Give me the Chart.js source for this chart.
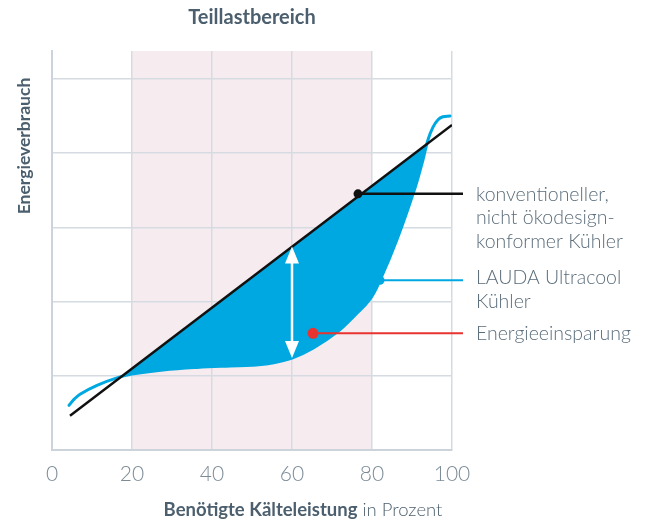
<!DOCTYPE html>
<html>
<head>
<meta charset="utf-8">
<script src="https://cdn.jsdelivr.net/npm/chart.js@4"></script>
<style>
  html, body { margin: 0; padding: 0; background: #fff; }
  #wrap { width: 648px; height: 525px; }
</style>
</head>
<body>
<div id="wrap"><canvas id="chart" width="648" height="525"></canvas></div>
<script>
// values (x in %, y in grid units, 0 at bottom axis)
const xTicks = [0, 20, 40, 60, 80, 100];
const partLoad = [20, 80];
const conventional = [
    {x: 4.5, y: 0.46},
    {x: 100, y: 4.38}
];
const ultracool = [
    {x: 4.25, y: 0.60}, {x: 5.5, y: 0.68}, {x: 7, y: 0.75}, {x: 11.25, y: 0.87}, {x: 16.25, y: 0.97},
    {x: 20, y: 1.02}, {x: 27.75, y: 1.075}, {x: 36.25, y: 1.11}, {x: 44.5, y: 1.13},
    {x: 50, y: 1.14}, {x: 55, y: 1.17}, {x: 60, y: 1.237}, {x: 65.25, y: 1.37},
    {x: 71.25, y: 1.586}, {x: 75.75, y: 1.815}, {x: 79.5, y: 2.03}, {x: 82, y: 2.285},
    {x: 86.25, y: 2.836}, {x: 90.75, y: 3.53}, {x: 92.75, y: 3.91}, {x: 94, y: 4.18},
    {x: 95.25, y: 4.35}, {x: 96.5, y: 4.45}, {x: 97.75, y: 4.49}, {x: 99.5, y: 4.50}
];
const savingArrow = {x: 60, from: 1.237, to: 2.74};
const calloutPoints = [
    {x: 76.5, y: 3.45},
    {x: 82, y: 2.285},
    {x: 65.25, y: 1.57}
];
const calloutLabels = [
    ['konventioneller,', 'nicht ökodesign-', 'konformer Kühler'],
    ['LAUDA Ultracool', 'Kühler'],
    ['Energieeinsparung']
];
const chartTitle = 'Teillastbereich';
const yTitle = 'Energieverbrauch';
const xTitleBold = 'Benötigte Kälteleistung';
const xTitleRest = ' in Prozent';

const BLUE = '#00a8e1';
const calloutColors = ['#111111', BLUE, '#e8332f'];
const FONT = 'Lato, "Open Sans", sans-serif';
const TEXT = '#4c5f6e';

const overlay = {
    id: 'overlay',
    beforeDraw(chart) {
        const {ctx, chartArea: a, scales: {x}} = chart;
        const l = x.getPixelForValue(partLoad[0]);
        const r = x.getPixelForValue(partLoad[1]);
        ctx.save();
        ctx.fillStyle = '#f6ecef';
        ctx.fillRect(l, a.top, r - l, a.bottom - a.top);
        ctx.restore();
    },
    afterDatasetsDraw(chart) {
        const {ctx, chartArea: a, scales: {x, y}} = chart;
        ctx.save();

        // white double arrow
        const ax = x.getPixelForValue(savingArrow.x);
        const yTop = y.getPixelForValue(savingArrow.to);
        const yBot = y.getPixelForValue(savingArrow.from);
        const head = 17, half = 7;
        ctx.strokeStyle = '#fff';
        ctx.fillStyle = '#fff';
        ctx.lineWidth = 2.5;
        ctx.beginPath();
        ctx.moveTo(ax, yTop + head - 2);
        ctx.lineTo(ax, yBot - head + 2);
        ctx.stroke();
        ctx.beginPath();
        ctx.moveTo(ax, yTop);
        ctx.lineTo(ax - half, yTop + head);
        ctx.lineTo(ax + half, yTop + head);
        ctx.closePath();
        ctx.fill();
        ctx.beginPath();
        ctx.moveTo(ax, yBot);
        ctx.lineTo(ax - half, yBot - head);
        ctx.lineTo(ax + half, yBot - head);
        ctx.closePath();
        ctx.fill();

        // callouts
        const lineEnd = a.right + 11;
        const textX = a.right + 24;
        calloutPoints.forEach((p, i) => {
            const px = x.getPixelForValue(p.x);
            const py = y.getPixelForValue(p.y);
            ctx.strokeStyle = calloutColors[i];
            ctx.fillStyle = calloutColors[i];
            ctx.lineWidth = i === 0 ? 2.5 : 2;
            ctx.beginPath();
            ctx.moveTo(px, py);
            ctx.lineTo(lineEnd, py);
            ctx.stroke();
            ctx.beginPath();
            ctx.arc(px, py, i === 2 ? 5.5 : 4.5, 0, Math.PI * 2);
            ctx.fill();

            ctx.fillStyle = '#5b6d7b';
            ctx.font = '300 19.5px ' + FONT;
            ctx.textBaseline = 'alphabetic';
            ctx.textAlign = 'left';
            const base = py + (i === 1 ? 4 : 7);
            calloutLabels[i].forEach((t, k) => ctx.fillText(t, textX, base + k * 23.5));
        });

        // title over the part-load band
        ctx.fillStyle = TEXT;
        ctx.font = 'bold 20px ' + FONT;
        ctx.textAlign = 'center';
        ctx.textBaseline = 'middle';
        ctx.fillText(chartTitle, x.getPixelForValue((partLoad[0] + partLoad[1]) / 2), 18);

        // y axis title
        ctx.save();
        ctx.translate(24, 146);
        ctx.rotate(-Math.PI / 2);
        ctx.font = 'bold 17.5px ' + FONT;
        ctx.fillText(yTitle, 0, 0);
        ctx.restore();

        // x axis title, bold part + light part
        ctx.textAlign = 'left';
        ctx.textBaseline = 'alphabetic';
        ctx.font = 'bold 18.5px ' + FONT;
        const w1 = ctx.measureText(xTitleBold).width;
        ctx.font = '300 18.5px ' + FONT;
        const w2 = ctx.measureText(xTitleRest).width;
        const sx = 303 - (w1 + w2) / 2;
        ctx.font = 'bold 18.5px ' + FONT;
        ctx.fillText(xTitleBold, sx, 516);
        ctx.font = '300 18.5px ' + FONT;
        ctx.fillText(xTitleRest, sx + w1, 516);

        ctx.restore();
    }
};

new Chart(document.getElementById('chart').getContext('2d'), {
    type: 'line',
    data: {
        datasets: [
            {
                label: 'konventionell',
                data: conventional,
                borderColor: '#111111',
                borderWidth: 2.5,
                pointRadius: 0,
                fill: false,
                order: 1
            },
            {
                label: 'LAUDA Ultracool',
                data: ultracool,
                borderColor: BLUE,
                borderWidth: 3,
                borderCapStyle: 'round',
                pointRadius: 0,
                tension: 0.4,
                fill: {target: 0, above: 'rgba(0,0,0,0)', below: BLUE},
                order: 2
            }
        ]
    },
    options: {
        responsive: false,
        animation: false,
        layout: {padding: {left: 52, top: 51, right: 196, bottom: 26}},
        plugins: {
            legend: {display: false},
            tooltip: {enabled: false}
        },
        scales: {
            x: {
                type: 'linear',
                min: xTicks[0],
                max: xTicks[xTicks.length - 1],
                afterBuildTicks: s => { s.ticks = xTicks.map(v => ({value: v})); },
                ticks: {
                    color: '#7c8b96',
                    padding: 12,
                    font: {family: FONT, size: 21, weight: '300'}
                },
                grid: {color: '#d5dbe1', lineWidth: 1.5, drawTicks: false},
                border: {color: '#ccd3da', width: 2}
            },
            y: {
                min: 0,
                max: 5.376,
                ticks: {display: false, stepSize: 1, includeBounds: false},
                grid: {color: '#d5dbe1', lineWidth: 1.5, drawTicks: false},
                border: {color: '#ccd3da', width: 2}
            }
        }
    },
    plugins: [overlay]
});
</script>
</body>
</html>
